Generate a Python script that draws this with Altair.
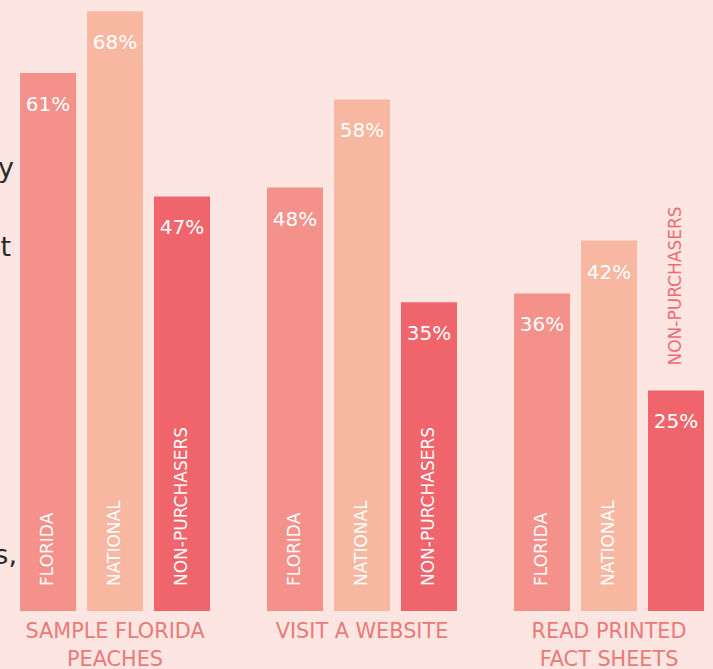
import altair as alt
import pandas as pd

# ---- data ----
groups = ["SAMPLE FLORIDA|PEACHES", "VISIT A WEBSITE", "READ PRINTED|FACT SHEETS"]
series = ["FLORIDA", "NATIONAL", "NON-PURCHASERS"]
florida = [61, 48, 36]
national = [68, 58, 42]
non_purchasers = [47, 35, 25]

rows = []
for i, g in enumerate(groups):
    for s, vals in zip(series, [florida, national, non_purchasers]):
        rows.append({"group": g, "series": s, "value": vals[i], "label": f"{vals[i]}%"})
df = pd.DataFrame(rows)

bar_colors = ["#F4918A", "#F8B7A0", "#F0646C"]
bg = "#FDE5E1"
font = "DejaVu Sans"

x_enc = alt.X("group:N", sort=groups,
              scale=alt.Scale(paddingInner=0.231, paddingOuter=0.0588, align=0.69),
              axis=alt.Axis(title=None, ticks=False, domain=False, grid=False,
                            labelAngle=0, labelExpr="split(datum.label, '|')",
                            labelFont=font, labelFontSize=20.8, labelLineHeight=28,
                            labelColor="#EA7A78", labelPadding=10, labelBaseline="top"))
xo_enc = alt.XOffset("series:N", sort=series, scale=alt.Scale(paddingInner=0.164, paddingOuter=0))
y_scale = alt.Scale(domain=[0, 69.27], nice=False, zero=True)

base = alt.Chart(df)

bars = base.mark_bar().encode(
    x=x_enc,
    xOffset=xo_enc,
    y=alt.Y("value:Q", scale=y_scale, axis=None),
    color=alt.Color("series:N", sort=series, scale=alt.Scale(domain=series, range=bar_colors), legend=None),
)

pct = base.mark_text(dy=32, baseline="middle", align="center", color="white",
                     font=font, fontSize=20).encode(
    x=x_enc, xOffset=xo_enc,
    y=alt.Y("value:Q", scale=y_scale, axis=None),
    text="label:N",
)

names = base.transform_calculate(
    outside="datum.value < 30",
    pos="datum.value < 30 ? datum.value : 0",
).mark_text(angle=270, align="left", baseline="middle", dx=25, font=font, fontSize=17).encode(
    x=x_enc, xOffset=xo_enc,
    y=alt.Y("pos:Q", scale=y_scale, axis=None),
    text="series:N",
    color=alt.condition("datum.outside", alt.value("#EF6A70"), alt.value("white")),
)

# cropped fragments of the neighbouring body text at the left edge
frag_style = dict(align="right", baseline="alphabetic", font=font, fontSize=27, color="#2A2A2A")
frag1 = alt.Chart(pd.DataFrame({"t": ["y"]})).mark_text(**frag_style).encode(
    x=alt.value(14), y=alt.value(177), text="t:N")
frag2 = alt.Chart(pd.DataFrame({"t": ["t"]})).mark_text(**frag_style).encode(
    x=alt.value(11), y=alt.value(256), text="t:N")
frag3 = alt.Chart(pd.DataFrame({"t": ["s,"]})).mark_text(**frag_style).encode(
    x=alt.value(17), y=alt.value(564), text="t:N")

chart = alt.layer(bars, pct, names, frag1, frag2, frag3).properties(
    width=713, height=611,
    autosize=alt.AutoSizeParams(type="none"),
    padding={"left": 0, "top": 0, "right": 0, "bottom": 58},
    background=bg,
).configure_view(stroke=None, fill=None)

chart.save("out.html", embed_options={"renderer": "svg", "actions": False})
